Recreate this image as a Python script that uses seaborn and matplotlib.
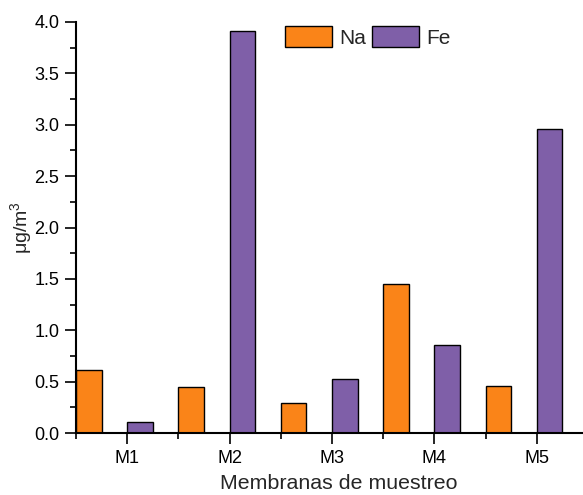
import numpy as np
import pandas as pd
import matplotlib
matplotlib.use("Agg")
import matplotlib.pyplot as plt
from matplotlib.ticker import MultipleLocator
import seaborn as sns

membranas = ["M1", "M2", "M3", "M4", "M5"]
na = [0.61, 0.45, 0.29, 1.45, 0.46]
fe = [0.11, 3.91, 0.53, 0.86, 2.96]

df = pd.DataFrame({
    "Membrana": membranas * 2,
    "Elemento": ["Na"] * 5 + ["Fe"] * 5,
    "Valor": na + fe,
})

sns.set_style("ticks")
plt.rcParams["font.family"] = ["Liberation Sans", "DejaVu Sans"]
plt.rcParams["mathtext.fontset"] = "custom"
plt.rcParams["mathtext.rm"] = "Liberation Sans"
plt.rcParams["mathtext.it"] = "Liberation Sans:italic"

fig = plt.figure(figsize=(5.83, 4.95), dpi=100)
ax = fig.add_axes([76 / 583, 62 / 495, (602 - 76) / 583, 411 / 495])

sns.barplot(data=df, x="Membrana", y="Valor", hue="Elemento",
            palette={"Na": "#FA8418", "Fe": "#7F5FA8"},
            width=1.0, gap=0.5, edgecolor="black", linewidth=1,
            saturation=1, ax=ax)

ax.set_xlim(-0.375, 4.762)
ax.set_ylim(0, 4.0)
ax.set_xticks(np.arange(5) + 0.125, labels=membranas)
ax.set_xticks(np.arange(6) - 0.375, minor=True)
ax.yaxis.set_major_locator(MultipleLocator(0.5))
ax.yaxis.set_minor_locator(MultipleLocator(0.25))
ax.yaxis.set_major_formatter(plt.FormatStrFormatter("%.1f"))

ax.tick_params(which="major", direction="out", length=8, width=1.2,
               labelsize=13, colors="black", pad=4)
ax.tick_params(which="minor", direction="out", length=4, width=1.2,
               colors="black")
for s in ["top", "right"]:
    ax.spines[s].set_visible(False)
for s in ["left", "bottom"]:
    ax.spines[s].set_linewidth(1.5)
    ax.spines[s].set_color("black")

ax.set_xlabel("Membranas de muestreo", fontsize=15.4, labelpad=5)
ax.set_ylabel(r"μg/m$^{\mathrm{3}}$", fontsize=14)
ax.yaxis.set_label_coords(-0.08, 0.5)

h, l = ax.get_legend_handles_labels()
ax.legend(h, l, loc="upper left", bbox_to_anchor=(285 / 583, 1 - 26 / 495),
          bbox_transform=fig.transFigure, ncol=2, frameon=False,
          fontsize=15, borderpad=0, borderaxespad=0, handlelength=2.26,
          handleheight=1.2, handletextpad=0.34, columnspacing=0.3)

fig.savefig("out.png", dpi=100)
